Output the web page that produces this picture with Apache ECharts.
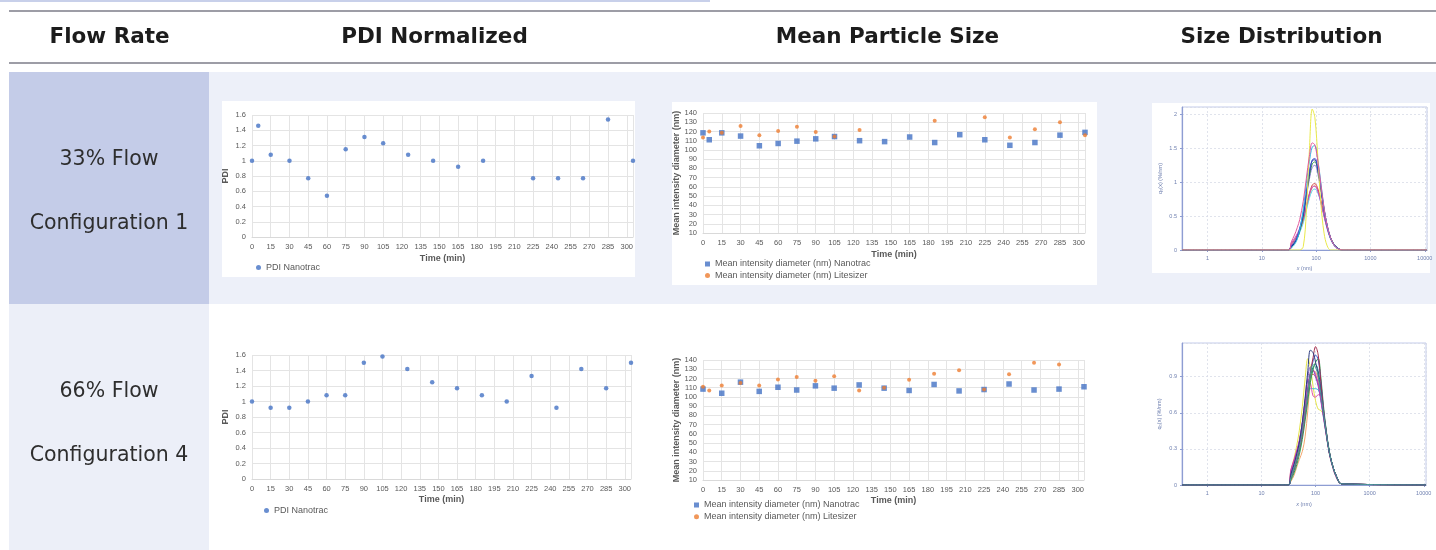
<!DOCTYPE html>
<html>
<head>
<meta charset="utf-8">
<script src="https://cdn.jsdelivr.net/npm/echarts@6/dist/echarts.min.js"></script>
<style>
html,body{margin:0;padding:0;background:#ffffff;}
#c{width:1436px;height:550px;}
</style>
</head>
<body>
<div id="c"></div>
<script>
// ---------------- text ----------------
const headerLabels = ['Flow Rate', 'PDI Normalized', 'Mean Particle Size', 'Size Distribution'];
const row1Labels = ['33% Flow', 'Configuration 1'];
const row2Labels = ['66% Flow', 'Configuration 4'];

// ---------------- PDI (normalized) ----------------
const pdiTime1 = [0, 5, 15, 30, 45, 60, 75, 90, 105, 125, 145, 165, 185, 225, 245, 265, 285, 305];
const pdi1     = [1, 1.46, 1.08, 1, 0.77, 0.54, 1.15, 1.31, 1.23, 1.08, 1, 0.92, 1, 0.77, 0.77, 0.77, 1.54, 1];
const pdiTime2 = [0, 15, 30, 45, 60, 75, 90, 105, 125, 145, 165, 185, 205, 225, 245, 265, 285, 305];
const pdi2     = [1, 0.92, 0.92, 1, 1.08, 1.08, 1.5, 1.58, 1.42, 1.25, 1.17, 1.08, 1, 1.33, 0.92, 1.42, 1.17, 1.5];

// ---------------- Mean particle size ----------------
const nanoTime1 = [0, 5, 15, 30, 45, 60, 75, 90, 105, 125, 145, 165, 185, 205, 225, 245, 265, 285, 305];
const nano1     = [118.5, 111, 118.5, 115, 104.5, 107, 109.5, 112, 114.5, 110, 109, 114, 108, 116.5, 111, 105, 108, 116, 119];
const liteTime1 = [0, 5, 15, 30, 45, 60, 75, 90, 105, 125, 185, 225, 245, 265, 285, 305];
const lite1     = [113.5, 120, 118.5, 126, 116, 120.5, 125, 119.5, 114.5, 121.5, 131.5, 135.5, 113.5, 122.5, 130, 116];
const nanoTime2 = [0, 15, 30, 45, 60, 75, 90, 105, 125, 145, 165, 185, 205, 225, 245, 265, 285, 305];
const nano2     = [108.5, 104, 116, 106, 110.5, 107.5, 112, 109.5, 113, 109.5, 107, 113.5, 106.5, 108, 114, 107.5, 108.5, 111];
const liteTime2 = [0, 5, 15, 30, 45, 60, 75, 90, 105, 125, 145, 165, 185, 205, 225, 245, 265, 285];
const lite2     = [111, 107, 112.5, 115, 112.5, 119, 121.5, 117.5, 122.5, 107, 110, 118.5, 125, 129, 108, 124.5, 137, 135];

// ---------------- Size distribution, configuration 1 ----------------
const sdSize1    = [0.34, 31, 35, 40, 45, 50, 58, 66, 75, 85, 95, 108, 122, 140, 160, 185, 215, 250, 300, 11000];
const sd1Yellow  = [0, 0, 0, 0, 0, 0, 0.05, 0.55, 1.45, 2.08, 1.95, 1.35, 0.7, 0.25, 0.06, 0, 0, 0, 0, 0];
const sd1Cyan    = [0, 0, 0.03, 0.08, 0.16, 0.3, 0.6, 0.98, 1.3, 1.52, 1.54, 1.32, 1.0, 0.62, 0.35, 0.17, 0.07, 0.02, 0, 0];
const sd1Blue    = [0, 0, 0.06, 0.12, 0.2, 0.32, 0.55, 0.85, 1.15, 1.33, 1.35, 1.2, 0.93, 0.6, 0.36, 0.18, 0.08, 0.03, 0, 0];
const sd1Navy    = [0, 0, 0.05, 0.1, 0.18, 0.3, 0.52, 0.82, 1.12, 1.32, 1.33, 1.18, 0.92, 0.6, 0.35, 0.17, 0.07, 0.02, 0, 0];
const sd1Green   = [0, 0, 0.04, 0.1, 0.17, 0.28, 0.5, 0.8, 1.08, 1.27, 1.3, 1.17, 0.92, 0.6, 0.36, 0.18, 0.08, 0.03, 0, 0];
const sd1Violet  = [0, 0, 0.05, 0.11, 0.19, 0.3, 0.5, 0.78, 1.04, 1.22, 1.25, 1.12, 0.88, 0.58, 0.35, 0.17, 0.07, 0.02, 0, 0];
const sd1Red     = [0, 0, 0.08, 0.15, 0.22, 0.3, 0.45, 0.64, 0.83, 0.96, 0.98, 0.9, 0.74, 0.52, 0.33, 0.18, 0.08, 0.03, 0, 0];
const sd1Orange  = [0, 0, 0.06, 0.12, 0.2, 0.28, 0.43, 0.62, 0.8, 0.92, 0.95, 0.88, 0.73, 0.52, 0.33, 0.17, 0.08, 0.03, 0, 0];
const sd1Aqua    = [0, 0, 0.05, 0.11, 0.18, 0.26, 0.4, 0.58, 0.76, 0.88, 0.9, 0.84, 0.7, 0.5, 0.32, 0.17, 0.08, 0.03, 0, 0];
const sd1Magenta = [0, 0, 0.1, 0.17, 0.24, 0.32, 0.47, 0.65, 0.82, 0.93, 0.94, 0.86, 0.7, 0.5, 0.31, 0.16, 0.07, 0.02, 0, 0];
const sd1Pink    = [0, 0, 0.12, 0.22, 0.33, 0.45, 0.72, 1.05, 1.38, 1.58, 1.55, 1.3, 0.98, 0.62, 0.36, 0.18, 0.07, 0.02, 0, 0];

// ---------------- Size distribution, configuration 4 ----------------
const sdSize2    = [0.34, 31, 35, 40, 45, 50, 57, 64, 72, 80, 90, 100, 112, 125, 140, 158, 180, 210, 250, 300, 11000];
const sd2Navy    = [0, 0, 0.09, 0.17, 0.26, 0.35, 0.52, 0.72, 0.95, 1.12, 1.1, 1.02, 0.92, 0.78, 0.6, 0.43, 0.27, 0.15, 0.06, 0.01, 0];
const sd2DarkRed = [0, 0, 0.06, 0.13, 0.21, 0.29, 0.42, 0.58, 0.77, 0.93, 1.06, 1.15, 1.08, 0.86, 0.63, 0.44, 0.27, 0.15, 0.06, 0.01, 0];
const sd2Green   = [0, 0, 0.04, 0.1, 0.17, 0.25, 0.38, 0.53, 0.7, 0.85, 0.96, 1.02, 1.05, 0.9, 0.66, 0.45, 0.28, 0.15, 0.06, 0.01, 0];
const sd2Blue    = [0, 0, 0.07, 0.14, 0.22, 0.3, 0.44, 0.6, 0.78, 0.93, 1.03, 1.08, 1.04, 0.86, 0.63, 0.44, 0.27, 0.15, 0.06, 0.01, 0];
const sd2Yellow  = [0, 0, 0.12, 0.22, 0.33, 0.45, 0.65, 0.88, 1.05, 0.98, 0.82, 0.7, 0.63, 0.62, 0.58, 0.42, 0.26, 0.14, 0.05, 0.01, 0];
const sd2Cyan    = [0, 0, 0.08, 0.15, 0.23, 0.31, 0.45, 0.61, 0.76, 0.8, 0.8, 0.8, 0.79, 0.74, 0.6, 0.43, 0.27, 0.15, 0.06, 0.01, 0];
const sd2Pink    = [0, 0, 0.13, 0.21, 0.29, 0.37, 0.52, 0.7, 0.88, 0.85, 0.74, 0.73, 0.75, 0.74, 0.6, 0.43, 0.27, 0.15, 0.06, 0.01, 0];
const sd2Orange  = [0, 0, 0.03, 0.08, 0.15, 0.21, 0.28, 0.4, 0.62, 0.85, 0.95, 0.94, 0.88, 0.74, 0.58, 0.42, 0.27, 0.15, 0.06, 0.01, 0];
const sd2Magenta = [0, 0, 0.12, 0.2, 0.28, 0.36, 0.5, 0.66, 0.82, 0.92, 0.95, 0.92, 0.84, 0.72, 0.57, 0.42, 0.26, 0.14, 0.05, 0.01, 0];
const sd2Teal    = [0, 0, 0.05, 0.12, 0.2, 0.28, 0.42, 0.58, 0.76, 0.9, 0.98, 1.0, 0.95, 0.8, 0.61, 0.44, 0.27, 0.15, 0.06, 0.01, 0];
const sd2Purple  = [0, 0, 0.1, 0.18, 0.27, 0.36, 0.52, 0.7, 0.88, 0.98, 0.96, 0.9, 0.82, 0.7, 0.56, 0.41, 0.26, 0.14, 0.05, 0.01, 0];
const sd2Red     = [0, 0, 0.1, 0.18, 0.26, 0.34, 0.48, 0.64, 0.8, 0.9, 0.92, 0.9, 0.84, 0.72, 0.58, 0.42, 0.27, 0.15, 0.06, 0.01, 0];
const sd2Grey    = [0, 0, 0.06, 0.14, 0.22, 0.3, 0.44, 0.6, 0.78, 0.92, 1.0, 0.98, 0.9, 0.76, 0.6, 0.43, 0.27, 0.15, 0.06, 0.01, 0];

// ---------------- helpers ----------------
const XF = '"Liberation Sans", Arial, sans-serif';
const XG = '#595959';
const SDC = '#7080b0';
const pairs = (xs, ys) => xs.map((x, i) => [x, ys[i]]);

function excelX(gi, gap) {
  return {
    type: 'value', gridIndex: gi, min: 0, max: 305, interval: 15,
    name: 'Time (min)', nameLocation: 'middle', nameGap: gap,
    nameTextStyle: { fontFamily: XF, fontWeight: 'bold', fontSize: 9, color: XG },
    axisLine: { show: true, lineStyle: { color: '#d9d9d9', width: 1 } },
    axisTick: { show: false },
    axisLabel: { fontFamily: XF, fontSize: 7.5, color: XG, margin: 6, showMaxLabel: false, hideOverlap: false },
    splitLine: { show: true, lineStyle: { color: '#e4e4e4', width: 1 } }
  };
}
function excelY(gi, min, max, interval, name, gap) {
  return {
    type: 'value', gridIndex: gi, min: min, max: max, interval: interval,
    name: name, nameLocation: 'middle', nameRotate: 90, nameGap: gap,
    nameTextStyle: { fontFamily: XF, fontWeight: 'bold', fontSize: 9, color: XG },
    axisLine: { show: false }, axisTick: { show: false },
    axisLabel: { fontFamily: XF, fontSize: 7.5, color: XG, margin: 6 },
    splitLine: { show: true, lineStyle: { color: '#e4e4e4', width: 1 } }
  };
}
function sdX(gi, gap) {
  return {
    type: 'log', logBase: 10, gridIndex: gi, min: 0.34, max: 11000,
    name: '{i|x} (nm)', nameLocation: 'middle', nameGap: gap,
    nameTextStyle: { fontFamily: XF, fontSize: 5.5, color: SDC, rich: { i: { fontFamily: XF, fontSize: 5.5, fontStyle: 'italic', color: SDC } } },
    axisLine: { show: true, lineStyle: { color: '#8e9dd2', width: 1.2 } },
    axisTick: { show: true, length: 2, lineStyle: { color: '#8e9dd2' } },
    axisLabel: { fontFamily: XF, fontSize: 5.5, color: SDC, margin: 5, showMinLabel: false, showMaxLabel: false,
      formatter: v => (v >= 1 ? String(Math.round(v)) : '') },
    splitLine: { show: true, lineStyle: { color: '#d9dce8', type: [2, 2], width: 0.8 } }
  };
}
function sdY(gi, max, interval, gap) {
  return {
    type: 'value', gridIndex: gi, min: 0, max: max, interval: interval,
    name: 'q\u2080(x) (%/nm)', nameLocation: 'middle', nameRotate: 90, nameGap: gap,
    nameTextStyle: { fontFamily: XF, fontSize: 5.5, color: SDC },
    axisLine: { show: true, lineStyle: { color: '#8e9dd2', width: 1.2 } },
    axisTick: { show: true, length: 2, lineStyle: { color: '#8e9dd2' } },
    axisLabel: { fontFamily: XF, fontSize: 5.5, color: SDC, margin: 5, showMaxLabel: false },
    splitLine: { show: true, lineStyle: { color: '#d9dce8', type: [2, 2], width: 0.8 } }
  };
}
function sdLine(gi, xs, ys, color) {
  return {
    type: 'line', xAxisIndex: gi, yAxisIndex: gi, data: pairs(xs, ys),
    showSymbol: false, symbol: 'none', smooth: 0.35, silent: true,
    lineStyle: { color: color, width: 1 }, itemStyle: { color: color }
  };
}

const N_NANO = 'Mean intensity diameter (nm) Nanotrac';
const N_LITE = 'Mean intensity diameter (nm) Litesizer';
const BLUE = '#4472c4', ORANGE = '#ed7d31';

// ---------------- backgrounds & table text ----------------
const HF = '"DejaVu Sans", sans-serif';
const rect = (x, y, w, h, fill, z) => ({ type: 'rect', silent: true, z: z, shape: { x: x, y: y, width: w, height: h }, style: { fill: fill } });
const txt = (x, y, s, font, fill) => ({ type: 'text', silent: true, z: 50, x: x, y: y, style: { text: s, font: font, fill: fill, align: 'center', verticalAlign: 'middle' } });
const headerX = [109.5, 434.5, 887.5, 1281.5];

const graphics = [
  rect(0, 0, 710, 2, '#c8d0ea', -20),
  rect(9, 10, 1427, 2, '#9d9da6', -20),
  rect(9, 62, 1427, 2, '#9d9da6', -20),
  rect(9, 72, 200, 232, '#c4cce8', -20),
  rect(209, 72, 1227, 232, '#edf0f9', -20),
  rect(9, 304, 200, 246, '#eceff8', -20),
  rect(222, 101, 413, 176, '#ffffff', -10),
  rect(672, 102, 425, 183, '#ffffff', -10),
  rect(1152, 103, 278, 170, '#ffffff', -10)
];
headerLabels.forEach((h, i) => graphics.push(txt(headerX[i], 37, h, 'bold 21.5px ' + HF, '#1c1c1c')));
graphics.push(txt(109, 160, row1Labels[0], '20.5px ' + HF, '#2e2e2e'));
graphics.push(txt(109, 224, row1Labels[1], '20.5px ' + HF, '#2e2e2e'));
graphics.push(txt(109, 392, row2Labels[0], '20.5px ' + HF, '#2e2e2e'));
graphics.push(txt(109, 456, row2Labels[1], '20.5px ' + HF, '#2e2e2e'));

// ---------------- option ----------------
const gridBase = { containLabel: false, outerBoundsMode: 'none' };
const option = {
  animation: false,
  backgroundColor: '#ffffff',
  graphic: { elements: graphics },
  grid: [
    Object.assign({ left: 252, top: 115, width: 381, height: 122 }, gridBase),
    Object.assign({ left: 252, top: 355, width: 379, height: 124 }, gridBase),
    Object.assign({ left: 703, top: 113, width: 382, height: 120 }, gridBase),
    Object.assign({ left: 703, top: 360, width: 381, height: 120 }, gridBase),
    Object.assign({ left: 1182, top: 107, width: 245, height: 143, show: true, backgroundColor: '#ffffff', borderColor: '#c3cbea', borderWidth: 1 }, gridBase),
    Object.assign({ left: 1182, top: 343, width: 244, height: 142, show: true, backgroundColor: '#ffffff', borderColor: '#c3cbea', borderWidth: 1 }, gridBase)
  ],
  xAxis: [excelX(0, 17.5), excelX(1, 16.5), excelX(2, 17), excelX(3, 16), sdX(4, 15), sdX(5, 16)],
  yAxis: [
    excelY(0, 0, 1.6, 0.2, 'PDI', 21.5),
    excelY(1, 0, 1.6, 0.2, 'PDI', 21.5),
    excelY(2, 10, 140, 10, 'Mean intensity diameter (nm)', 19),
    excelY(3, 10, 140, 10, 'Mean intensity diameter (nm)', 19),
    sdY(4, 2.11, 0.5, 19),
    sdY(5, 1.18, 0.3, 20)
  ],
  legend: [
    { left: 256, top: 263, data: [{ name: 'PDI Nanotrac', icon: 'circle' }], itemWidth: 5, itemHeight: 5, selectedMode: false,
      textStyle: { fontFamily: XF, fontSize: 9, color: XG }, padding: 0 },
    { left: 264, top: 506, data: [{ name: 'PDI Nanotrac', icon: 'circle' }], itemWidth: 5, itemHeight: 5, selectedMode: false,
      textStyle: { fontFamily: XF, fontSize: 9, color: XG }, padding: 0 },
    { left: 705, top: 259.5, orient: 'vertical', itemGap: 2.4, data: [{ name: N_NANO, icon: 'rect' }, { name: N_LITE, icon: 'circle' }],
      itemWidth: 5, itemHeight: 5, selectedMode: false, textStyle: { fontFamily: XF, fontSize: 9, color: XG }, padding: 0 },
    { left: 694, top: 500.5, orient: 'vertical', itemGap: 2.7, data: [{ name: N_NANO, icon: 'rect' }, { name: N_LITE, icon: 'circle' }],
      itemWidth: 5, itemHeight: 5, selectedMode: false, textStyle: { fontFamily: XF, fontSize: 9, color: XG }, padding: 0 }
  ],
  series: [
    { type: 'scatter', name: 'PDI Nanotrac', xAxisIndex: 0, yAxisIndex: 0, data: pairs(pdiTime1, pdi1), symbol: 'circle', symbolSize: 4.5, itemStyle: { color: BLUE } },
    { type: 'scatter', name: 'PDI Nanotrac', xAxisIndex: 1, yAxisIndex: 1, data: pairs(pdiTime2, pdi2), symbol: 'circle', symbolSize: 4.5, itemStyle: { color: BLUE } },
    { type: 'scatter', name: N_NANO, xAxisIndex: 2, yAxisIndex: 2, data: pairs(nanoTime1, nano1), symbol: 'rect', symbolSize: 5.5, itemStyle: { color: BLUE } },
    { type: 'scatter', name: N_LITE, xAxisIndex: 2, yAxisIndex: 2, data: pairs(liteTime1, lite1), symbol: 'circle', symbolSize: 4, itemStyle: { color: ORANGE }, z: 3 },
    { type: 'scatter', name: N_NANO, xAxisIndex: 3, yAxisIndex: 3, data: pairs(nanoTime2, nano2), symbol: 'rect', symbolSize: 5.5, itemStyle: { color: BLUE } },
    { type: 'scatter', name: N_LITE, xAxisIndex: 3, yAxisIndex: 3, data: pairs(liteTime2, lite2), symbol: 'circle', symbolSize: 4, itemStyle: { color: ORANGE }, z: 3 },

    sdLine(4, sdSize1, sd1Orange, '#f2a65a'),
    sdLine(4, sdSize1, sd1Aqua, '#5fd3ea'),
    sdLine(4, sdSize1, sd1Red, '#d44a4a'),
    sdLine(4, sdSize1, sd1Magenta, '#c04bc4'),
    sdLine(4, sdSize1, sd1Violet, '#8c78d4'),
    sdLine(4, sdSize1, sd1Green, '#3c9c4e'),
    sdLine(4, sdSize1, sd1Navy, '#1e2b84'),
    sdLine(4, sdSize1, sd1Blue, '#3a50d6'),
    sdLine(4, sdSize1, sd1Cyan, '#35b8e2'),
    sdLine(4, sdSize1, sd1Yellow, '#e9e94a'),
    sdLine(4, sdSize1, sd1Pink, '#e2579c'),

    sdLine(5, sdSize2, sd2Orange, '#f4a66c'),
    sdLine(5, sdSize2, sd2Yellow, '#e4e448'),
    sdLine(5, sdSize2, sd2Cyan, '#3cc4d8'),
    sdLine(5, sdSize2, sd2Pink, '#e255a6'),
    sdLine(5, sdSize2, sd2Red, '#d44444'),
    sdLine(5, sdSize2, sd2Purple, '#7654c4'),
    sdLine(5, sdSize2, sd2Magenta, '#c23fb2'),
    sdLine(5, sdSize2, sd2Teal, '#1f8a86'),
    sdLine(5, sdSize2, sd2Green, '#2e9e52'),
    sdLine(5, sdSize2, sd2Blue, '#3a58cc'),
    sdLine(5, sdSize2, sd2DarkRed, '#a8304e'),
    sdLine(5, sdSize2, sd2Navy, '#2c3a7c'),
    sdLine(5, sdSize2, sd2Grey, '#4f9a9a')
  ]
};

const chart = echarts.init(document.getElementById('c'), null, { renderer: 'canvas', width: 1436, height: 550 });
chart.setOption(option);
</script>
</body>
</html>
